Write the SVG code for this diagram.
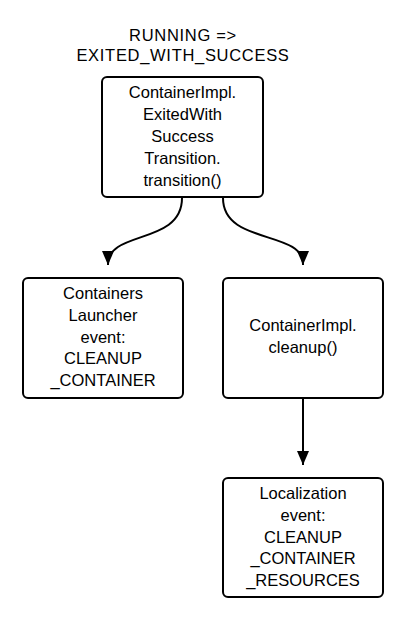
<svg xmlns="http://www.w3.org/2000/svg" width="407" height="624" viewBox="0 0 407 624">
<defs>
<style>
.box{fill:#fff;stroke:#000;stroke-width:2}
.t{font-family:"Liberation Sans",Arial,sans-serif;font-size:16.5px;fill:#000;text-anchor:middle}
.title{letter-spacing:0.7px}
.c{fill:none;stroke:#000;stroke-width:2}
</style>
<marker id="ah" viewBox="0 0 14 12" refX="14" refY="6" markerWidth="14" markerHeight="12" markerUnits="userSpaceOnUse" orient="auto">
<path d="M0,0 L14,6 L0,12 Z" fill="#000"/>
</marker>
</defs>
<rect width="407" height="624" fill="#fff"/>
<g id="title">
<text class="t title" x="183" y="41">RUNNING =&gt;</text>
<text class="t title" x="183" y="61">EXITED_WITH_SUCCESS</text>
</g>
<g id="connectors">
<path class="c" d="M182,198 C182,245 108,230 108,264 L108,265" marker-end="url(#ah)"/>
<path class="c" d="M223,198 C223,245 303,230 303,264 L303,265" marker-end="url(#ah)"/>
<path class="c" d="M303,398 L303,465" marker-end="url(#ah)"/>
</g>
<g id="transition">
<rect class="box" x="102" y="77" width="161" height="120" rx="5"/>
<text class="t" x="182.5" y="98">ContainerImpl.</text>
<text class="t" x="182.5" y="120">ExitedWith</text>
<text class="t" x="182.5" y="142">Success</text>
<text class="t" x="182.5" y="164">Transition.</text>
<text class="t" x="182.5" y="186">transition()</text>
</g>
<g id="launcher">
<rect class="box" x="23" y="278" width="160" height="120" rx="5"/>
<text class="t" x="103" y="299">Containers</text>
<text class="t" x="103" y="321">Launcher</text>
<text class="t" x="103" y="343">event:</text>
<text class="t" x="103" y="364">CLEANUP</text>
<text class="t" x="103" y="386">_CONTAINER</text>
</g>
<g id="cleanup">
<rect class="box" x="223" y="278" width="160" height="120" rx="5"/>
<text class="t" x="303" y="331">ContainerImpl.</text>
<text class="t" x="303" y="353">cleanup()</text>
</g>
<g id="localization">
<rect class="box" x="223" y="478" width="160" height="119" rx="5"/>
<text class="t" x="303" y="499">Localization</text>
<text class="t" x="303" y="521">event:</text>
<text class="t" x="303" y="543">CLEANUP</text>
<text class="t" x="303" y="564">_CONTAINER</text>
<text class="t" x="303" y="586">_RESOURCES</text>
</g>
</svg>
